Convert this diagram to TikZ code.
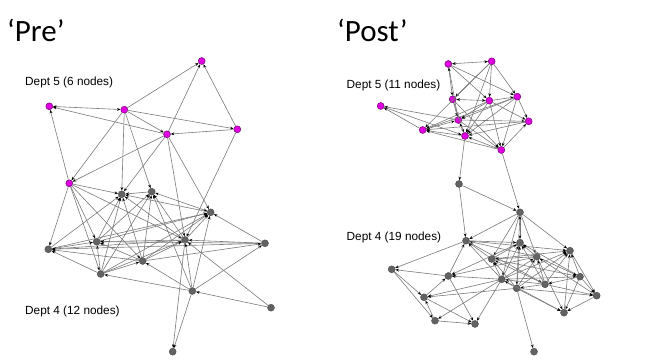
\documentclass[tikz,border=0pt]{standalone}
\usepackage{fontspec}
\setmainfont{Liberation Sans}
\newfontfamily\titlefont{Carlito}
\usepackage{tikz}
\usetikzlibrary{arrows.meta}
\definecolor{deptfive}{RGB}{222,0,222}
\definecolor{deptfour}{RGB}{98,98,98}

\begin{document}
\begin{tikzpicture}[x=1pt, y=-1pt,
    mag/.style={circle, draw=violet!80!black, fill=deptfive, inner sep=0, minimum size=7pt, line width=0.4pt},
    grey/.style={circle, draw=black!70, fill=deptfour, inner sep=0, minimum size=7pt, line width=0.4pt},
    edge/.style={draw=black!52, line width=0.6pt, -{Stealth[length=3.6pt, width=2.8pt, black]}},
    both/.style={edge, {Stealth[length=3.6pt, width=2.8pt, black]}-{Stealth[length=3.6pt, width=2.8pt, black]}},
    lab/.style={anchor=west, inner sep=0, font=\fontsize{11.8}{13}\selectfont},
    ttl/.style={anchor=base west, inner sep=0, font=\titlefont\fontsize{31}{34}\selectfont}]
    \useasboundingbox (0,0) rectangle (648,363);

    \node[ttl] (pre) at (7,41.5) {‘Pre’};
    \node[ttl] (post) at (337,41.5) {‘Post’};

    \node[lab] (preD5) at (25,82) {Dept 5 (6 nodes)};
    \node[lab] (preD4) at (25,311) {Dept 4 (12 nodes)};
    \node[lab] (postD5) at (346.5,85) {Dept 5 (11 nodes)};
    \node[lab] (postD4) at (346.5,237) {Dept 4 (19 nodes)};

    \foreach \n/\x/\y in {a1/201.7/61, a2/49.3/106.3, a3/124.3/109.7, a4/167/134.3,
        a5/237.3/129.3, a6/69.3/183.3}
        \node[mag] (\n) at (\x,\y) {};
    \foreach \n/\x/\y in {b1/121.7/194.3, b2/151.7/191.7, b3/210.7/212.3, b4/96.7/241.7,
        b5/48.3/249.3, b6/185/240, b7/265/243.3, b8/142.7/261, b9/100.7/274,
        b10/192.3/291, b11/271/307.7, b12/172.7/351.7}
        \node[grey] (\n) at (\x,\y) {};

    \foreach \n/\x/\y in {c1/448.3/64, c2/491.7/61.3, c3/452.7/99.3, c4/489.3/100.7,
        c5/517.3/96.7, c6/380.7/106, c7/458.3/120, c8/528.7/121.3, c9/422.7/130,
        c10/465/136, c11/501.3/150}
        \node[mag] (\n) at (\x,\y) {};
    \foreach \n/\x/\y in {d1/459/184, d2/520/212.3, d3/466/240.7, d4/520/242.7,
        d5/570/250.7, d6/491.7/259, d7/536.7/256.7, d8/391.7/269.3, d9/448.3/276,
        d10/501.7/279.3, d11/580/276.7, d12/516.7/288.3, d13/545/284.3, d14/424/297.3,
        d15/596.7/295.7, d16/435/320.7, d17/475/324, d18/564/312.7, d19/534/351.7}
        \node[grey] (\n) at (\x,\y) {};

    \foreach \s/\t in {a3/a1, a4/a1, a5/a1, a4/a2, a6/a2, a3/a4, a3/a5, a5/a4,
        a3/a6, a4/a6, a3/b1, a3/b2, a4/b1, a4/b6, a4/b3, a5/b6,
        a6/b1, a6/b4, a6/b5, a6/b9, a6/b8, a6/b6,
        b2/b1, b5/b1, b4/b1, b9/b1, b8/b1, b6/b1, b3/b1,
        b4/b2, b9/b2, b8/b2, b6/b2, b10/b2,
        b4/b3, b5/b3, b8/b3, b9/b3, b6/b3, b7/b3, b10/b3,
        b5/b4, b6/b4, b7/b4, b8/b4, b9/b4,
        b6/b5, b8/b5, b9/b5, b7/b5,
        b7/b6, b8/b6, b10/b6, b11/b6, b9/b6,
        b8/b7, b10/b7, b9/b8, b10/b8, b10/b9, b11/b10, b10/b12, b6/b12}
        \draw[edge] (\s) -- (\t);
    \foreach \s/\t in {a3/a2, b3/b2}
        \draw[both] (\s) -- (\t);

    \foreach \s/\t in {c1/c4, c1/c5, c1/c7, c2/c3, c2/c4, c2/c5, c2/c9, c2/c10,
        c3/c7, c3/c10, c3/c11, c4/c5, c4/c7, c4/c9, c4/c10, c4/c8, c4/c11,
        c5/c7, c5/c8, c5/c10, c5/c11, c5/c9, c7/c6, c9/c6, c6/c10,
        c7/c8, c9/c7, c10/c7, c7/c11, c8/c9, c8/c10, c11/c8, c10/c9, c11/c9, c11/c10,
        c10/d1, c11/d2, d1/d2, d1/d3}
        \draw[edge] (\s) -- (\t);
    \foreach \s/\t in {c2/c1, c3/c1, c4/c3}
        \draw[both] (\s) -- (\t);

    \foreach \s/\t in {d2/d6, d2/d10, d2/d12, d2/d7, d2/d5, d2/d3,
        d3/d8, d9/d3, d3/d4, d7/d3, d3/d5, d6/d3, d10/d3, d3/d13,
        d9/d8, d8/d14, d8/d16, d10/d9, d4/d9, d7/d9, d9/d17, d14/d9,
        d10/d14, d16/d14, d14/d17, d12/d14, d16/d17, d10/d16, d10/d17, d12/d19,
        d11/d15, d15/d18, d5/d15, d12/d15, d13/d15,
        d11/d18, d10/d18, d12/d18, d18/d5, d7/d18,
        d11/d5, d6/d5, d10/d5, d12/d5, d13/d5,
        d6/d4, d7/d4, d10/d4, d12/d4, d13/d4, d11/d4,
        d7/d6, d10/d6, d12/d6, d13/d6, d6/d11,
        d10/d7, d12/d7, d13/d7, d7/d11, d15/d7,
        d12/d10, d13/d10, d10/d11, d13/d12, d11/d13}
        \draw[edge] (\s) -- (\t);
    \foreach \s/\t in {d4/d2}
        \draw[both] (\s) -- (\t);
\end{tikzpicture}
\end{document}
